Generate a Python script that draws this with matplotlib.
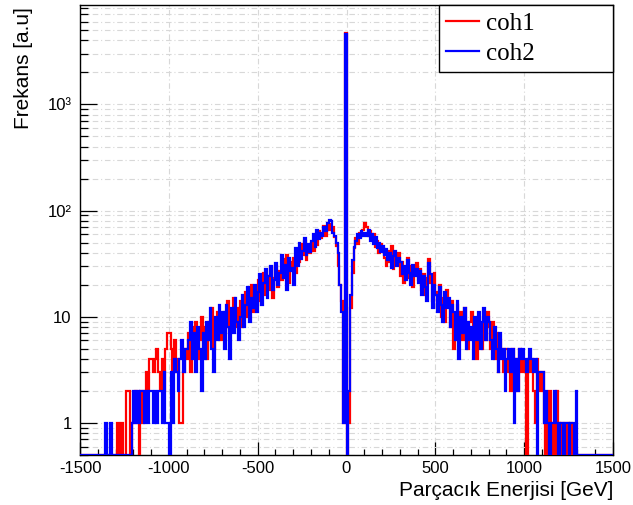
import numpy as np
import matplotlib
matplotlib.use("Agg")
import matplotlib.pyplot as plt
from matplotlib.ticker import FixedLocator, FixedFormatter, LogLocator, NullFormatter, MultipleLocator

plt.rcParams["axes.unicode_minus"] = False

# ---------------- data (10 GeV bins from -1500 to 1500) ----------------
bin_edges = np.arange(-1500, 1501, 10)

coh1 = [
    0, 0, 0, 0, 0, 0, 0, 0, 0, 0,            # -1500
    0, 0, 0, 0, 0, 0, 0, 0, 0, 0,            # -1400
    0, 1, 0, 1, 0, 0, 2, 2, 0, 1,            # -1300
    1, 2, 1, 0, 2, 1, 2, 3, 2, 4,            # -1200
    4, 3, 4, 5, 3, 2, 4, 2, 5, 7,            # -1100
    7, 5, 3, 6, 3, 4, 1, 1, 3, 5,            # -1000
    4, 7, 3, 8, 5, 9, 4, 6, 10, 5,           # -900
    8, 4, 9, 6, 12, 5, 8, 11, 6, 9,          # -800
    6, 11, 8, 14, 7, 10, 15, 8, 12, 9,       # -700
    14, 8, 12, 17, 10, 15, 20, 11, 18, 13,   # -600
    22, 14, 19, 26, 16, 24, 18, 29, 15, 23,  # -500
    30, 19, 27, 22, 35, 25, 38, 21, 33, 28,  # -400
    36, 26, 42, 33, 48, 38, 52, 34, 47, 40,  # -300
    50, 42, 58, 47, 64, 55, 60, 72, 58, 66,  # -200
    74, 65, 70, 56, 46, 30, 20, 14, 1, 4680, # -100
    0, 1, 12, 26, 44, 55, 48, 62, 58, 66,    # 0
    76, 70, 58, 64, 54, 60, 45, 52, 40, 48,  # 100
    44, 36, 30, 42, 33, 46, 28, 38, 31, 40,  # 200
    24, 33, 21, 29, 36, 23, 30, 19, 27, 32,  # 300
    22, 28, 18, 25, 16, 23, 35, 21, 14, 26,  # 400
    17, 12, 20, 10, 15, 9, 18, 13, 8, 14,    # 500
    5, 10, 13, 7, 11, 6, 12, 8, 5, 9,        # 600
    11, 6, 9, 4, 10, 7, 5, 9, 6, 11,         # 700
    8, 5, 9, 4, 7, 3, 6, 5, 3, 5,            # 800
    5, 3, 2, 5, 3, 4, 2, 5, 3, 4,            # 900
    3, 0, 4, 3, 4, 2, 1, 4, 3, 2,            # 1000
    3, 1, 0, 1, 2, 0, 1, 0, 2, 1,            # 1100
    0, 1, 0, 1, 0, 1, 1, 0, 0, 0,            # 1200
    0, 0, 0, 0, 0, 0, 0, 0, 0, 0,            # 1300
    0, 0, 0, 0, 0, 0, 0, 0, 0, 0,            # 1400
]

coh2 = [
    0, 0, 0, 0, 0, 0, 0, 0, 0, 0,            # -1500
    0, 0, 0, 0, 1, 0, 0, 1, 0, 0,            # -1400
    0, 0, 0, 0, 0, 0, 0, 0, 0, 1,            # -1300
    2, 1, 2, 1, 2, 2, 1, 2, 1, 2,            # -1200
    2, 1, 2, 1, 2, 2, 1, 3, 1, 1,            # -1100
    0, 3, 1, 4, 3, 2, 4, 6, 3, 5,            # -1000
    5, 6, 9, 4, 7, 3, 8, 5, 2, 7,            # -900
    4, 9, 6, 12, 5, 3, 10, 6, 13, 7,         # -800
    11, 5, 13, 8, 4, 12, 7, 15, 9, 6,        # -700
    10, 16, 8, 13, 19, 9, 15, 12, 20, 11,    # -600
    17, 25, 13, 21, 28, 15, 24, 30, 18, 22,  # -500
    32, 20, 26, 38, 23, 31, 18, 36, 27, 29,  # -400
    20, 44, 30, 50, 35, 42, 55, 38, 48, 41,  # -300
    52, 60, 45, 66, 54, 62, 58, 70, 64, 76,  # -200
    82, 80, 62, 57, 50, 40, 20, 11, 1, 4620, # -100
    0, 2, 16, 34, 45, 52, 60, 55, 64, 58,    # 0
    62, 57, 66, 52, 60, 48, 56, 44, 50, 41,  # 100
    46, 38, 43, 34, 40, 29, 37, 42, 30, 36,  # 200
    33, 25, 30, 22, 34, 26, 20, 31, 24, 28,  # 300
    21, 27, 16, 24, 19, 14, 32, 25, 12, 20,  # 400
    16, 11, 19, 13, 9, 17, 12, 15, 8, 13,    # 500
    11, 6, 14, 4, 10, 7, 12, 5, 9, 6,        # 600
    8, 4, 10, 6, 11, 5, 9, 12, 6, 10,        # 700
    9, 6, 4, 8, 5, 3, 7, 4, 5, 2,            # 800
    4, 5, 3, 5, 1, 4, 2, 5, 4, 5,            # 900
    4, 3, 4, 5, 4, 3, 4, 0, 3, 3,            # 1000
    3, 1, 2, 1, 0, 1, 1, 2, 1, 0,            # 1100
    1, 1, 0, 1, 1, 0, 1, 1, 0, 2,            # 1200
    0, 0, 0, 0, 0, 0, 0, 0, 0, 0,            # 1300
    0, 0, 0, 0, 0, 0, 0, 0, 0, 0,            # 1400
]

series_labels = ["coh1", "coh2"]
x_ticks = [-1500, -1000, -500, 0, 500, 1000, 1500]
y_ticks = [1, 10, 100, 1000]
y_tick_labels = ["1", "10", "10²", "10³"]

# ---------------- figure ----------------
W, H = 633, 505
fig = plt.figure(figsize=(W / 100, H / 100), dpi=100)
L, R, T, B = 80, 613, 5, 455
ax = fig.add_axes([L / W, 1 - B / H, (R - L) / W, (B - T) / H])

ymin, ymax = 0.5, 8600
ax.set_yscale("log")
ax.set_xlim(-1500, 1500)
ax.set_ylim(ymin, ymax)

edges = np.asarray(bin_edges)
ax.stairs(np.maximum(coh1, ymin), edges, baseline=None, color="#ff0000",
          lw=1.6, label=series_labels[0], zorder=3)
ax.stairs(np.maximum(coh2, ymin), edges, baseline=None, color="#0000ff",
          lw=1.6, label=series_labels[1], zorder=4)

# ticks
ax.xaxis.set_major_locator(FixedLocator(x_ticks))
ax.xaxis.set_minor_locator(MultipleLocator(100))
ax.yaxis.set_major_locator(FixedLocator(y_ticks))
ax.yaxis.set_major_formatter(FixedFormatter(y_tick_labels))
ax.yaxis.set_minor_locator(LogLocator(base=10, subs=np.arange(2, 10), numticks=20))
ax.yaxis.set_minor_formatter(NullFormatter())

ax.tick_params(axis="x", which="major", direction="in", length=9.5, width=0.9, pad=4,
               labelsize=12, top=False)
ax.tick_params(axis="x", which="minor", direction="in", length=4.5, width=0.9, top=False)
ax.tick_params(axis="y", which="major", direction="in", length=12, width=0.9, pad=6,
               labelsize=12, right=False)
ax.tick_params(axis="y", which="minor", direction="in", length=6, width=0.9, right=False)
for lab in ax.get_xticklabels() + ax.get_yticklabels():
    lab.set_fontfamily("Liberation Sans")

# grid
gstyle = dict(color="#d8d8d8", linestyle=(0, (5, 2.5, 1, 2.5)), linewidth=0.8)
ax.grid(True, which="major", axis="x", **gstyle)
ax.grid(True, which="both", axis="y", **gstyle)
ax.set_axisbelow(True)

for sp in ax.spines.values():
    sp.set_linewidth(1.0)
    sp.set_color("black")

# labels
ax.set_xlabel("Parçacık Enerjisi [GeV]", fontsize=15, family="Liberation Sans",
              ha="right", va="top")
ax.xaxis.set_label_coords(1.0, -0.058)
ax.set_ylabel("Frekans [a.u]", fontsize=15, family="Liberation Sans",
              ha="right", va="bottom")
ax.yaxis.set_label_coords(-0.088, 0.996)

# legend
leg = ax.legend(loc="upper left",
                bbox_to_anchor=(439 / W, 1 - 67 / H, 174 / W, 62 / H),
                bbox_transform=fig.transFigure, mode="expand", borderaxespad=0,
                fancybox=False, edgecolor="black", framealpha=1,
                prop={"family": "Liberation Serif", "size": 18},
                handlelength=1.3, handletextpad=0.3, borderpad=0.28,
                labelspacing=0.3)
leg.get_frame().set_linewidth(1.0)

fig.savefig("out.png", dpi=100)
